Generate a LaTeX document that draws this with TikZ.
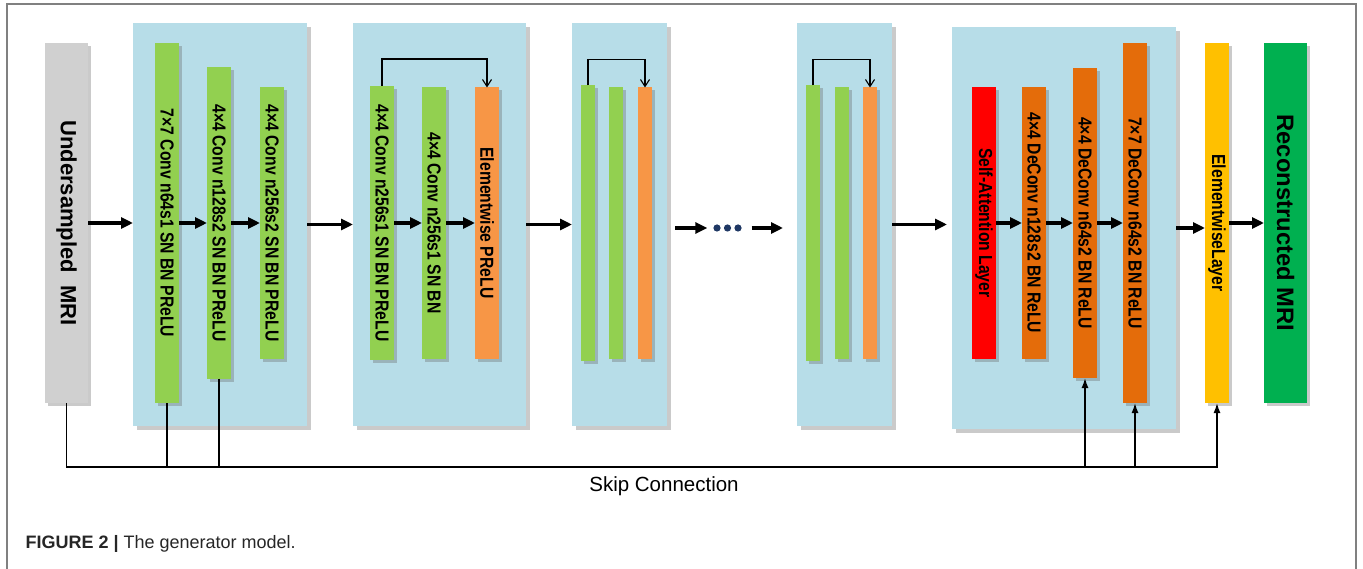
\documentclass[tikz,border=0pt]{standalone}
\usepackage{fontspec}
\setmainfont{Liberation Sans}
\usepackage{tikz}
\usetikzlibrary{arrows.meta,
  positioning,
  shadows
}
\definecolor{blockblue}{RGB}{183,221,232}
\definecolor{convgreen}{RGB}{146,208,80}
\definecolor{sumorange}{RGB}{247,150,70}
\definecolor{deconvorange}{RGB}{228,108,10}
\definecolor{attnred}{RGB}{255,0,0}
\definecolor{outyellow}{RGB}{255,192,0}
\definecolor{outgreen}{RGB}{0,176,80}
\definecolor{ingray}{RGB}{208,208,208}
\definecolor{dotnavy}{RGB}{31,56,100}
\definecolor{framegray}{RGB}{128,128,128}
\newcommand{\vlabel}[1]{\rotatebox{-90}{\scalebox{1}[1.2]{#1}}}
\newcommand{\vtitle}[1]{\rotatebox{-90}{#1}}

\begin{document}
\begin{tikzpicture}[x=1pt,y=-1pt,
        blocknode/.style={rectangle, fill=blockblue, inner sep=0pt, outer sep=0pt, minimum height=403pt,
          drop shadow={shadow xshift=4pt, shadow yshift=-4pt, opacity=0.35, fill=black!60}},
        barnode/.style={rectangle, inner sep=0pt, outer sep=0pt, minimum width=24pt,
          font=\fontsize{15.7}{18}\selectfont\bfseries,
          drop shadow={shadow xshift=3pt, shadow yshift=-3pt, opacity=0.35, fill=black!60}},
        thinbar/.style={barnode, minimum width=14pt, minimum height=271pt},
        flowarrow/.style={line width=3.5pt, -{Triangle[length=12pt,width=11pt]}},
        loopline/.style={line width=1.1pt, -{Straight Barb[length=7pt,width=9pt]}},
        skipline/.style={line width=1.5pt},
        skiparrow/.style={line width=1.5pt, -{Latex[length=10pt,width=7pt]}},
      ]
      \useasboundingbox (0,0) rectangle (1363,569);
      % Frame
      \draw[framegray, line width=1.5pt] (7,569) -- (7,4) -- (1356,4) -- (1356,569);

      % Blocks
      \node[blocknode, minimum width=174pt] (blk1) at (220,224.5) {};
      \node[blocknode, minimum width=173pt] (blk2) at (439.5,224.5) {};
      \node[blocknode, minimum width=95pt] (blk3) at (619.5,224.5) {};
      \node[blocknode, minimum width=95pt] (blk4) at (844.5,224.5) {};
      \node[blocknode, minimum width=224pt, minimum height=402pt] (blk5) at (1064,228) {};

      % Nodes
      \node[barnode, fill=ingray, minimum width=43pt, minimum height=360pt,
        font=\fontsize{22}{24}\selectfont\bfseries] (input) at (66.5,223) {\vtitle{Undersampled\ \ MRI}};

      \node[barnode, fill=convgreen, minimum height=360pt] (conv1) [right=67pt of input] {\vlabel{7×7 Conv n64s1 SN BN PReLU}};
      \node[barnode, fill=convgreen, minimum height=311pt] (conv2) [right=28pt of conv1] {\vlabel{4×4 Conv n128s2 SN BN PReLU}};
      \node[barnode, fill=convgreen, minimum height=271pt] (conv3) [right=29pt of conv2] {\vlabel{4×4 Conv n256s2 SN BN PReLU}};

      \node[barnode, fill=convgreen, minimum height=274pt] (res1a) [right=86pt of conv3] {\vlabel{4×4 Conv n256s1 SN BN PReLU}};
      \node[barnode, fill=convgreen, minimum height=271pt] (res1b) [right=28pt of res1a] {\vlabel{4×4 Conv n256s1 SN BN}};
      \node[barnode, fill=sumorange, minimum height=271pt] (res1c) [right=29pt of res1b] {\vlabel{Elementwise PReLU}};

      \node[thinbar, fill=convgreen, minimum height=275pt] (res2a) [right=82pt of res1c] {};
      \node[thinbar, fill=convgreen] (res2b) [right=14pt of res2a] {};
      \node[thinbar, fill=sumorange] (res2c) [right=15pt of res2b] {};

      \node[inner sep=0pt, minimum width=30pt, minimum height=8pt] (dots) at (727.5,228) {};

      \node[thinbar, fill=convgreen, minimum height=275pt] (res3a) [right=154pt of res2c] {};
      \node[thinbar, fill=convgreen] (res3b) [right=15pt of res3a] {};
      \node[thinbar, fill=sumorange] (res3c) [right=14pt of res3b] {};

      \node[barnode, fill=attnred, minimum height=271pt] (attn) [right=95pt of res3c] {\vlabel{Self-Attention Layer}};
      \node[barnode, fill=deconvorange, minimum height=271pt] (deconv1) [right=26pt of attn] {\vlabel{4×4 DeConv n128s2 BN ReLU}};
      \node[barnode, fill=deconvorange, minimum height=310pt] (deconv2) [right=27pt of deconv1] {\vlabel{4×4 DeConv n64s2 BN ReLU}};
      \node[barnode, fill=deconvorange, minimum height=360pt] (deconv3) [right=26pt of deconv2] {\vlabel{7×7 DeConv n64s2 BN ReLU}};

      \node[barnode, fill=outyellow, minimum height=360pt] (elem) [right=58pt of deconv3] {\vlabel{ElementwiseLayer}};
      \node[barnode, fill=outgreen, minimum width=43pt, minimum height=360pt,
        font=\fontsize{23.8}{26}\selectfont\bfseries] (output) [right=35pt of elem] {\vtitle{Reconstructed MRI}};

      \node[font=\fontsize{20.5}{22}\selectfont] (skiplabel) at (664,486) {Skip Connection};
      \node[anchor=west, text=black!85, font=\fontsize{18}{20}\selectfont] (caption) at (22,544) {\textbf{FIGURE 2 |} The generator model.};

      % Dots
      \foreach \dx in {-10.5,0,10.5}
        \fill[dotnavy] ([xshift=\dx pt]dots.center) circle (3.6pt);

      % Lines
      \draw[flowarrow] (input.east) -- (input.east -| blk1.west);
      \draw[flowarrow] (conv1.east) -- (conv2.west);
      \draw[flowarrow] (conv2.east) -- (conv3.west);
      \draw[flowarrow] (blk1.east) -- (blk2.west);
      \draw[flowarrow] (res1a.east) -- (res1b.west);
      \draw[flowarrow] (res1b.east) -- (res1c.west);
      \draw[flowarrow] (blk2.east) -- (blk3.west);
      \draw[flowarrow, shorten <=8pt, shorten >=5pt] (blk3.east |- dots) -- (dots.west);
      \draw[flowarrow, shorten <=9pt, shorten >=14pt] (dots.east) -- (dots -| blk4.west);
      \draw[flowarrow, shorten >=5pt] (blk4.east) -- (blk4.east -| blk5.west);
      \draw[flowarrow] (attn.east) -- (deconv1.west);
      \draw[flowarrow] (deconv1.east) -- (deconv2.west);
      \draw[flowarrow] (deconv2.east) -- (deconv3.west);
      \draw[flowarrow] (blk5.east) -- (blk5.east -| elem.west);
      \draw[flowarrow] (elem.east) -- (output.west);

      % Residual loops
      \draw[loopline] (res1a.north) -- ++(0,-27) -| (res1c.north);
      \draw[loopline] (res2a.north) -- ++(0,-26) -| (res2c.north);
      \draw[loopline] (res3a.north) -- ++(0,-26) -| (res3c.north);

      % Skip connection
      \coordinate (skipy) at (0,467);
      \draw[skiparrow] (input.south) |- (skipy -| elem.south) -- (elem.south);
      \draw[skipline] (conv1.south) -- (conv1.south |- skipy);
      \draw[skipline] (conv2.south) -- (conv2.south |- skipy);
      \draw[skiparrow] (deconv2.south |- skipy) -- (deconv2.south);
      \draw[skiparrow] (deconv3.south |- skipy) -- (deconv3.south);
    \end{tikzpicture}
\end{document}
